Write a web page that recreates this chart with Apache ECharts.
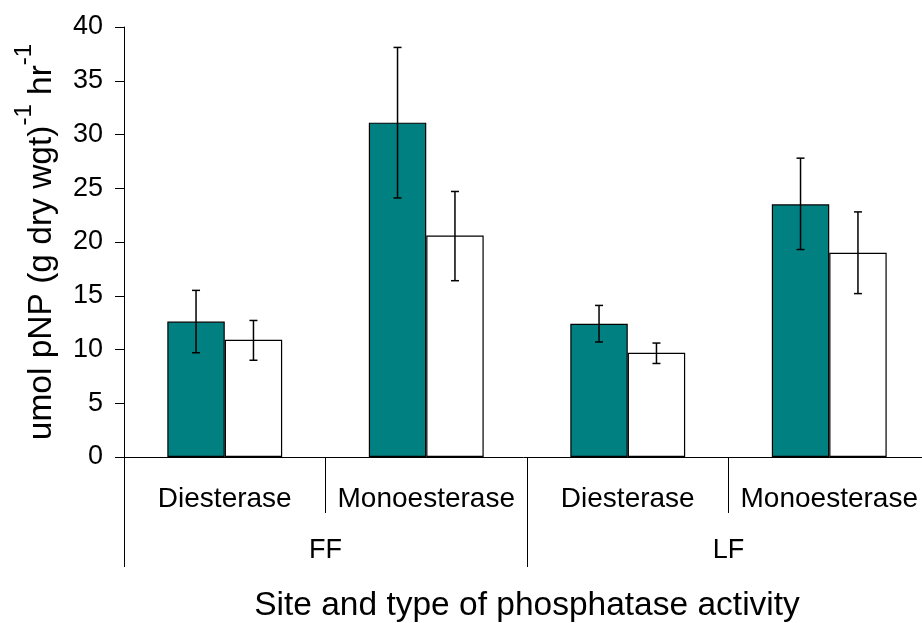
<!DOCTYPE html>
<html>
<head>
<meta charset="utf-8">
<script src="https://cdn.jsdelivr.net/npm/echarts@6/dist/echarts.min.js"></script>
<style>
  html, body { margin: 0; padding: 0; background: #fff; }
  #chart { width: 922px; height: 623px; }
</style>
</head>
<body>
<div id="chart"></div>
<script>
const categories = ['Diesterase', 'Monoesterase', 'Diesterase', 'Monoesterase'];
const sites = ['FF', 'LF'];
const yTicks = [0, 40, 5]; // min, max, step

// teal bars with error range
const tealMeans = [12.6, 31.1, 12.4, 23.5];
const tealLow = [9.7, 24.1, 10.7, 19.3];
const tealHigh = [15.5, 38.1, 14.1, 27.8];

// white bars with error range
const whiteMeans = [10.9, 20.6, 9.7, 19.0];
const whiteLow = [9.0, 16.4, 8.7, 15.2];
const whiteHigh = [12.7, 24.7, 10.6, 22.8];

const FONT = 'Liberation Sans, Arial, sans-serif';
const GAP = 0.43; // barCategoryGap

const chart = echarts.init(document.getElementById('chart'), null, { renderer: 'canvas' });

// error bars, shifted to the centre of each bar in the pair
function errorBars(side) {
  return function (params, api) {
    const idx = api.value(0);
    const lo = api.coord([idx, api.value(1)]);
    const hi = api.coord([idx, api.value(2)]);
    const band = api.size([1, 0])[0];
    const cx = lo[0] + side * band * (1 - GAP) / 4;
    const cap = 4;
    const style = { stroke: '#000', lineWidth: 1.5 };
    return {
      type: 'group',
      children: [
        { type: 'line', shape: { x1: cx, y1: hi[1], x2: cx, y2: lo[1] }, style },
        { type: 'line', shape: { x1: cx - cap, y1: hi[1], x2: cx + cap, y2: hi[1] }, style },
        { type: 'line', shape: { x1: cx - cap, y1: lo[1], x2: cx + cap, y2: lo[1] }, style }
      ]
    };
  };
}

const option = {
  animation: false,
  backgroundColor: '#fff',
  textStyle: { fontFamily: FONT, color: '#000' },
  // the axis runs a little past the right edge of the picture
  grid: { left: 124, width: 806, top: 27, bottom: 166, outerBoundsMode: 'none', containLabel: false },
  xAxis: [
    {
      type: 'category',
      position: 'bottom',
      data: categories,
      axisLine: { lineStyle: { color: '#000', width: 1 } },
      axisTick: { show: true, length: 56, interval: 0, lineStyle: { color: '#000' } },
      axisLabel: { interval: 0, fontSize: 28, margin: 28, color: '#000', fontFamily: FONT }
    },
    {
      type: 'category',
      position: 'bottom',
      data: sites,
      axisLine: { show: false },
      axisTick: { show: true, length: 110, interval: 0, lineStyle: { color: '#000' } },
      axisLabel: { interval: 0, fontSize: 27, margin: 80, color: '#000', fontFamily: FONT },
      name: 'Site and type of phosphatase activity',
      nameLocation: 'middle',
      nameGap: 132,
      nameMoveOverlap: false,
      nameTextStyle: { fontSize: 33.5, color: '#000', fontFamily: FONT }
    }
  ],
  yAxis: {
    type: 'value',
    min: yTicks[0],
    max: yTicks[1],
    interval: yTicks[2],
    splitLine: { show: false },
    axisLine: { show: true, lineStyle: { color: '#000', width: 1 } },
    axisTick: { show: true, length: 9, lineStyle: { color: '#000' } },
    axisLabel: { fontSize: 27, margin: 21, color: '#000', fontFamily: FONT },
    // zero-width "p" token only stretches the line so the superscripts sit high
    name: '{p|\u200b}{m|umol pNP (g dry wgt)}{s|-1}{m| hr}{s|-1}',
    nameLocation: 'middle',
    nameGap: 65,
    nameMoveOverlap: false,
    nameTextStyle: {
      fontFamily: FONT,
      color: '#000',
      rich: {
        p: { fontSize: 1, lineHeight: 47 },
        m: { fontSize: 33.5, lineHeight: 34, verticalAlign: 'bottom', fontFamily: FONT, color: '#000' },
        s: { fontSize: 24, lineHeight: 24, verticalAlign: 'top', fontFamily: FONT, color: '#000' }
      }
    }
  },
  series: [
    {
      type: 'bar',
      data: tealMeans,
      barGap: 0,
      barCategoryGap: GAP * 100 + '%',
      itemStyle: { color: '#008080', borderColor: '#000', borderWidth: 1.2 }
    },
    {
      type: 'bar',
      data: whiteMeans,
      barGap: 0,
      barCategoryGap: GAP * 100 + '%',
      itemStyle: { color: '#fff', borderColor: '#000', borderWidth: 1.2 }
    },
    {
      type: 'custom',
      renderItem: errorBars(-1),
      data: categories.map((c, i) => [i, tealLow[i], tealHigh[i]]),
      encode: { x: 0, y: [1, 2] },
      z: 10
    },
    {
      type: 'custom',
      renderItem: errorBars(1),
      data: categories.map((c, i) => [i, whiteLow[i], whiteHigh[i]]),
      encode: { x: 0, y: [1, 2] },
      z: 10
    }
  ]
};

chart.setOption(option);
</script>
</body>
</html>
